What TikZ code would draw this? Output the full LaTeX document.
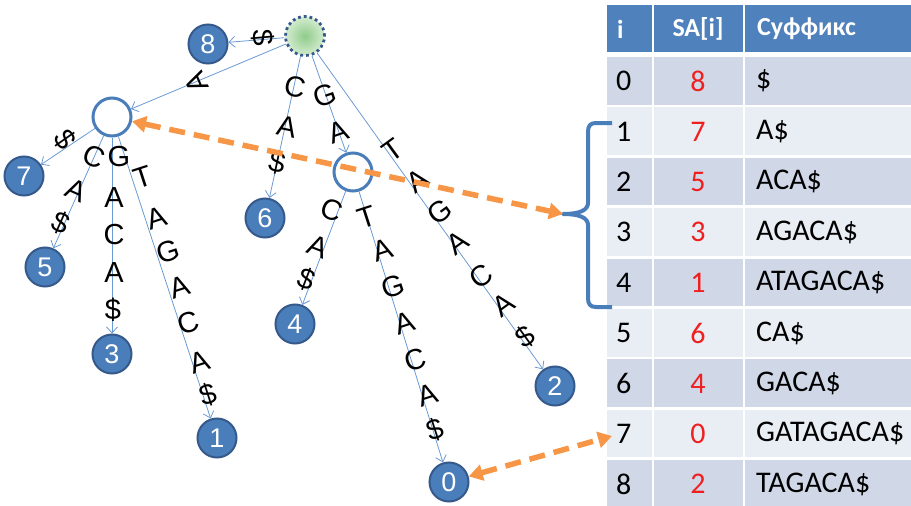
\documentclass[tikz,border=0pt]{standalone}
\usepackage{fontspec}
\setmainfont{Liberation Sans}
\newfontfamily\tabfont{Carlito}
\usetikzlibrary{arrows.meta}
\definecolor{hdr}{HTML}{4F81BD}
\definecolor{rowD}{HTML}{D0D8E8}
\definecolor{rowL}{HTML}{E9EDF4}
\definecolor{leafc}{HTML}{4A7EBB}
\definecolor{leafb}{HTML}{35598A}
\definecolor{edgec}{HTML}{6A9AD4}
\definecolor{orng}{HTML}{F79646}
\definecolor{brc}{HTML}{4A7EBB}
\definecolor{redn}{HTML}{F02020}
\definecolor{gin}{HTML}{8FCB8A}
\definecolor{gout}{HTML}{D4ECD0}
\tikzset{
  leaf/.style={circle, fill=leafc, draw=leafb, line width=2pt, minimum size=39pt, inner sep=0pt,
    text=white, font=\fontsize{27}{27}\selectfont},
  inner/.style={circle, fill=white, draw=leafc, line width=3pt, minimum size=38pt, inner sep=0pt},
  rootn/.style={circle, inner color=gin, outer color=gout, draw=leafb, line width=2.8pt,
    dash pattern=on 2.8pt off 3pt, minimum size=39pt, inner sep=0pt},
  tedge/.style={draw=edgec, line width=0.8pt, -{Straight Barb[length=6pt,width=11pt]}},
  lbl/.style={inner sep=0pt, font=\fontsize{29}{29}\selectfont},
  oarr/.style={draw=orng, line width=5.5pt, dash pattern=on 16pt off 9pt,
    {Triangle[length=14pt,width=16pt]}-{Triangle[length=14pt,width=16pt]}},
  tcell/.style={inner sep=0pt, font=\tabfont\fontsize{30}{30}\selectfont},
  thead/.style={inner sep=0pt, text=white, font=\tabfont\bfseries\fontsize{26}{26}\selectfont}
}
\begin{document}
\begin{tikzpicture}[x=1pt,y=-1pt]
\useasboundingbox (0,0) rectangle (911,506);
% ---------- table ----------
\fill[hdr] (607,5) rectangle (652,52);
\fill[hdr] (654,5) rectangle (743,52);
\fill[hdr] (745,5) rectangle (911,52);
\node[thead, anchor=west] (hi) at (617,29) {i};
\node[thead] (hs) at (698,29) {SA[i]};
\node[thead, anchor=west] (hx) at (757,29) {Суффикс};
\foreach \ii/\sa/\suf [count=\k from 0] in {0/8/\$, 1/7/A\$, 2/5/ACA\$, 3/3/AGACA\$, 4/1/ATAGACA\$, 5/6/CA\$, 6/4/GACA\$, 7/0/GATAGACA\$, 8/2/TAGACA\$}{
  \pgfmathsetmacro\rt{57+50.4*\k}
  \pgfmathsetmacro\rb{\rt+47.5}
  \pgfmathsetmacro\rc{\rt+24}
  \ifodd\k \def\rcol{rowL}\else\def\rcol{rowD}\fi
  \fill[\rcol] (607,\rt) rectangle (652,\rb);
  \fill[\rcol] (654,\rt) rectangle (743,\rb);
  \fill[\rcol] (745,\rt) rectangle (911,\rb);
  \node[tcell, anchor=west] (ti\k) at (616,\rc) {\ii};
  \node[tcell, text=redn] (ts\k) at (698,\rc) {\sa};
  \node[tcell, anchor=west] (tx\k) at (756,\rc) {\suf};
}
% ---------- tree nodes ----------
\node[rootn] (root) at (305,36) {};
\node[leaf] (n8) at (208,44) {8};
\node[inner] (A) at (112,117) {};
\node[leaf] (n7) at (24,176) {7};
\node[leaf] (n5) at (45,267) {5};
\node[leaf] (n3) at (112,354) {3};
\node[leaf] (n1) at (217,438) {1};
\node[leaf] (n6) at (265,218) {6};
\node[inner] (B) at (353,172) {};
\node[leaf] (n4) at (295,324) {4};
\node[leaf] (n0) at (449,482) {0};
\node[leaf] (n2) at (555,386) {2};
% ---------- edges ----------
\draw[tedge] (root) -- (n8);
\draw[tedge] (root) -- (A);
\draw[tedge] (root) -- (n6);
\draw[tedge] (root) -- (B);
\draw[tedge] (root) -- (n2);
\draw[tedge] (A) -- (n7);
\draw[tedge] (A) -- (n5);
\draw[tedge] (A) -- (n3);
\draw[tedge] (A) -- (n1);
\draw[tedge] (B) -- (n4);
\draw[tedge] (B) -- (n0);
% ---------- edge labels ----------
\node[lbl, rotate=-85] (l8) at (263,38) {\$};
\node[lbl, rotate=113] (lA) at (197,82) {A};
\foreach \t/\x/\y [count=\j] in {C/295/87, A/287/127, \$/277/163}
  \node[lbl, rotate=-12] (lr6\j) at (\x,\y) {\t};
\foreach \t/\x/\y [count=\j] in {G/325/95, A/338/132}
  \node[lbl, rotate=19] (lrB\j) at (\x,\y) {\t};
\foreach \t/\x/\y [count=\j] in {T/393/150, A/417/181, G/440/212, A/457/243, C/481/276, A/503/305, \$/525/337}
  \node[lbl, rotate=36] (lr2\j) at (\x,\y) {\t};
\node[lbl, rotate=-55] (l7) at (65,140) {\$};
\foreach \t/\x/\y [count=\j] in {C/94/157, A/76/190, \$/61/223}
  \node[lbl, rotate=-24] (lA5\j) at (\x,\y) {\t};
\foreach \t/\x/\y [count=\j] in {G/119/157, A/114/198, C/114/235, A/114/273, \$/113/310}
  \node[lbl] (lA3\j) at (\x,\y) {\t};
\foreach \t/\x/\y [count=\j] in {T/143/177, A/157/218, G/168/252, A/180/287, C/188/323, A/200/362, \$/208/395}
  \node[lbl, rotate=18] (lA1\j) at (\x,\y) {\t};
\foreach \t/\x/\y [count=\j] in {C/332/210, A/318/247, \$/307/279}
  \node[lbl, rotate=-21] (lB4\j) at (\x,\y) {\t};
\foreach \t/\x/\y [count=\j] in {T/367/217, A/383/250, G/393/287, A/405/323, C/415/360, A/428/395, \$/435/430}
  \node[lbl, rotate=18] (lB0\j) at (\x,\y) {\t};
% ---------- brace ----------
\coordinate (bt) at (563,214);
\coordinate (r7) at (612,436);
\draw[brc, line width=4pt, line join=round] (612,123) -- (596,123)
  .. controls (590,123) and (588,126) .. (588,132) -- (588,203)
  .. controls (588,210) and (580,214) .. (bt)
  .. controls (580,214) and (588,218) .. (588,225) -- (588,298)
  .. controls (588,304) and (590,307) .. (596,307) -- (612,307);
% ---------- orange arrows ----------
\draw[oarr] (A) -- (bt);
\draw[oarr] (n0) -- (r7);
\end{tikzpicture}
\end{document}
